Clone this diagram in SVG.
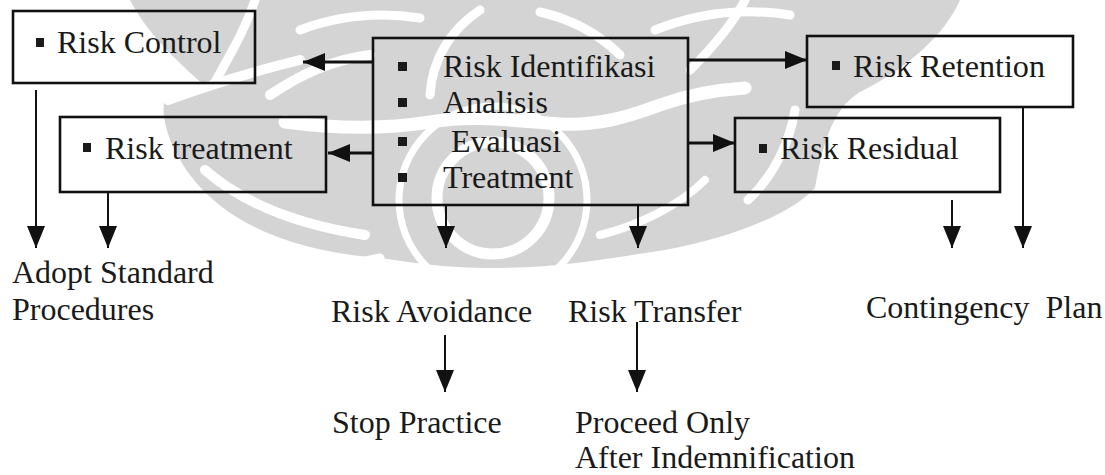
<svg xmlns="http://www.w3.org/2000/svg" width="1105" height="475" viewBox="0 0 1105 475">
  <style>
    .box { fill: none; stroke: #111; stroke-width: 2.6; }
    .lbl { font-family: "Liberation Serif", "Times New Roman", serif; font-size: 32px; fill: #1a1a1a; }
    .blt { fill: #1a1a1a; }
    .wire { stroke: #111; stroke-width: 2.8; fill: none; }
    .drop { stroke: #111; stroke-width: 2; fill: none; }
    .wm { fill: #d4d4d4; }
    .wm-cut { fill: none; stroke: #ffffff; stroke-linecap: round; }
  </style>
  <defs>
    <marker id="head" markerUnits="userSpaceOnUse" markerWidth="22" markerHeight="20" refX="22" refY="10" orient="auto">
      <path d="M0,1 L22,10 L0,19 Z" fill="#111"/>
    </marker>
  </defs>

  <rect x="0" y="0" width="1105" height="475" fill="#ffffff"/>

  <!-- faint background emblem -->
  <g id="watermark">
    <path class="wm" d="M130,0 L960,0 C945,35 905,70 860,92 C830,110 822,150 815,188 C790,215 730,238 665,250 C610,258 560,268 495,268 C440,268 410,262 380,258 C300,252 230,228 190,175 C168,145 160,115 165,98 C185,92 200,88 205,86 C175,60 145,30 130,0 Z"/>
    <!-- carved bands -->
    <path class="wm-cut" stroke-width="10" d="M168,100 C210,85 250,72 300,60"/>
    <path class="wm-cut" stroke-width="9" d="M215,82 C230,55 245,30 255,0"/>
    <path class="wm-cut" stroke-width="10" d="M270,95 C300,75 330,60 370,55"/>
    <path class="wm-cut" stroke-width="13" d="M285,122 C330,128 380,130 430,122 C480,114 520,122 560,124 C600,126 630,116 660,105 C690,94 715,90 745,88"/>
    <path class="wm-cut" stroke-width="9" d="M300,30 C340,15 380,12 420,18"/>
    <path class="wm-cut" stroke-width="9" d="M430,95 C432,60 450,30 480,10"/>
    <path class="wm-cut" stroke-width="9" d="M540,12 C575,20 600,35 620,55"/>
    <path class="wm-cut" stroke-width="9" d="M655,30 C700,12 745,8 790,15"/>
    <path class="wm-cut" stroke-width="9" d="M690,70 C720,40 735,20 745,0"/>
    <path class="wm-cut" stroke-width="9" d="M748,200 C775,175 790,140 795,110"/>
    <path class="wm-cut" stroke-width="10" d="M205,170 C245,205 300,225 365,235"/>
    <path class="wm-cut" stroke-width="8" d="M600,235 C640,225 680,205 705,180"/>
    <circle cx="493" cy="200" r="94" fill="none" stroke="#ffffff" stroke-width="7"/>
    <circle cx="493" cy="198" r="56" fill="none" stroke="#ffffff" stroke-width="11"/>
    <path class="wm-cut" stroke-width="9" d="M380,258 L320,270"/>
  </g>

  <!-- connectors -->
  <g id="connectors">
    <line class="wire" x1="373" y1="62" x2="303" y2="62" marker-end="url(#head)"/>
    <line class="wire" x1="373" y1="153" x2="328" y2="153" marker-end="url(#head)"/>
    <line class="wire" x1="688" y1="60" x2="807" y2="60" marker-end="url(#head)"/>
    <line class="wire" x1="688" y1="143" x2="735" y2="143" marker-end="url(#head)"/>
    <line class="drop" x1="36" y1="90" x2="36" y2="248" marker-end="url(#head)"/>
    <line class="drop" x1="108" y1="193" x2="108" y2="248" marker-end="url(#head)"/>
    <line class="drop" x1="446" y1="205" x2="446" y2="248" marker-end="url(#head)"/>
    <line class="drop" x1="638" y1="205" x2="638" y2="248" marker-end="url(#head)"/>
    <line class="drop" x1="952" y1="200" x2="952" y2="248" marker-end="url(#head)"/>
    <line class="drop" x1="1023" y1="106" x2="1023" y2="248" marker-end="url(#head)"/>
    <line class="drop" x1="445" y1="335" x2="445" y2="392" marker-end="url(#head)"/>
    <line class="drop" x1="637" y1="322" x2="637" y2="392" marker-end="url(#head)"/>
  </g>

  <g id="risk-control">
    <rect class="box" x="13" y="11" width="242" height="72"/>
    <rect class="blt" x="36" y="38" width="8" height="9"/>
    <text class="lbl" x="57" y="53">Risk Control</text>
  </g>

  <g id="risk-treatment">
    <rect class="box" x="60" y="117" width="266" height="75"/>
    <rect class="blt" x="83" y="143" width="8" height="9"/>
    <text class="lbl" x="105" y="159">Risk treatment</text>
  </g>

  <g id="process">
    <rect class="box" x="373" y="38" width="315" height="167"/>
    <rect class="blt" x="398" y="62" width="9" height="9"/>
    <rect class="blt" x="398" y="98" width="9" height="9"/>
    <rect class="blt" x="398" y="137" width="9" height="9"/>
    <rect class="blt" x="398" y="173" width="9" height="9"/>
    <text class="lbl" x="443" y="77">Risk Identifikasi</text>
    <text class="lbl" x="443" y="113">Analisis</text>
    <text class="lbl" x="451" y="152">Evaluasi</text>
    <text class="lbl" x="443" y="188">Treatment</text>
  </g>

  <g id="risk-retention">
    <rect class="box" x="807" y="36" width="266" height="71"/>
    <rect class="blt" x="832" y="61" width="8" height="9"/>
    <text class="lbl" x="853" y="77" textLength="192" lengthAdjust="spacingAndGlyphs">Risk Retention</text>
  </g>

  <g id="risk-residual">
    <rect class="box" x="735" y="118" width="265" height="74"/>
    <rect class="blt" x="759" y="144" width="8" height="9"/>
    <text class="lbl" x="780" y="159">Risk Residual</text>
  </g>

  <g id="adopt-standard">
    <text class="lbl" x="12" y="283">Adopt Standard</text>
    <text class="lbl" x="12" y="320">Procedures</text>
  </g>

  <g id="risk-avoidance">
    <text class="lbl" x="331" y="322">Risk Avoidance</text>
  </g>

  <g id="risk-transfer">
    <text class="lbl" x="568" y="322">Risk Transfer</text>
  </g>

  <g id="contingency-plan">
    <text class="lbl" x="866" y="318" xml:space="preserve">Contingency  Plan</text>
  </g>

  <g id="stop-practice">
    <text class="lbl" x="332" y="433">Stop Practice</text>
  </g>

  <g id="proceed-only">
    <text class="lbl" x="575" y="433">Proceed Only</text>
    <text class="lbl" x="575" y="468">After Indemnification</text>
  </g>
</svg>
